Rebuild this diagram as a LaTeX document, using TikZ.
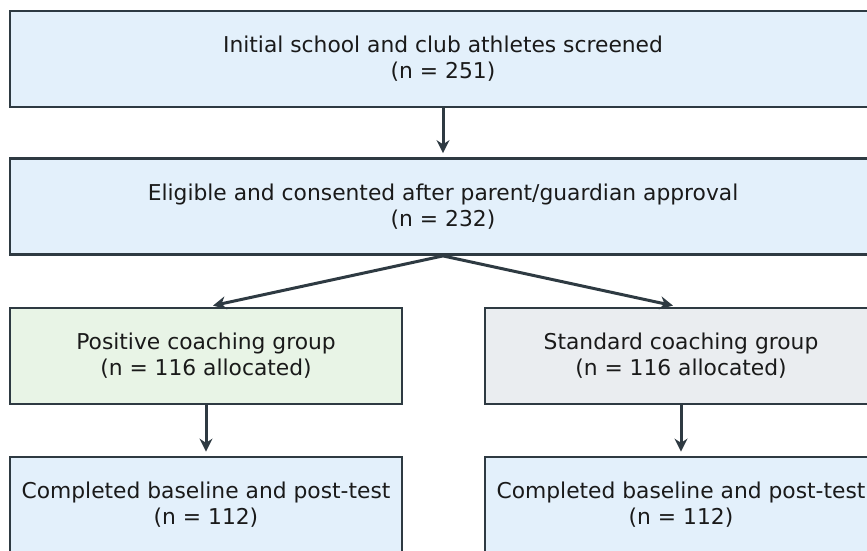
\documentclass[tikz,border=0pt]{standalone}
\usepackage{fontspec}
\setmainfont{DejaVu Sans}
\usetikzlibrary{arrows.meta,calc}
\definecolor{edge}{HTML}{2E3A42}
\definecolor{fblue}{HTML}{E3F0FB}
\definecolor{fgreen}{HTML}{E8F4E6}
\definecolor{fgray}{HTML}{EAEDF0}
\definecolor{txt}{HTML}{1A1A1A}
\tikzset{
  box/.style={draw=edge, line width=2.8pt, rectangle, inner sep=0pt, align=center,
    text=txt, font=\fontsize{21.8}{26}\selectfont, minimum height=96pt},
  wide/.style={box, minimum width=866pt},
  half/.style={box, minimum width=392pt},
  conn/.style={draw=edge, line width=3pt, -{Stealth[length=13pt,width=13pt]}}
}
\begin{document}
\begin{tikzpicture}[x=1pt,y=-1pt]
\useasboundingbox (0,0) rectangle (867,550);
\clip (0,0) rectangle (867,550);
\node[wide, fill=fblue] (s) at (443,59) {Initial school and club athletes screened\\(n = 251)};
\node[wide, fill=fblue] (e) at (443,206.5) {Eligible and consented after parent/guardian approval\\(n = 232)};
\node[half, fill=fgreen] (p) at (206,356) {Positive coaching group\\(n = 116 allocated)};
\node[half, fill=fgray] (c) at (681,356) {Standard coaching group\\(n = 116 allocated)};
\node[half, fill=fblue] (pb) at (206,505) {Completed baseline and post-test\\(n = 112)};
\node[half, fill=fblue] (cb) at (681,505) {Completed baseline and post-test\\(n = 112)};
\draw[conn] (s.south) -- ([yshift=4pt]e.north);
\draw[conn] (e.south) -- ([xshift=7pt,yshift=1pt]p.north);
\draw[conn] (e.south) -- ([xshift=-8pt,yshift=1pt]c.north);
\draw[conn] (p.south) -- ([yshift=4pt]pb.north);
\draw[conn] (c.south) -- ([yshift=4pt]cb.north);
\end{tikzpicture}
\end{document}
